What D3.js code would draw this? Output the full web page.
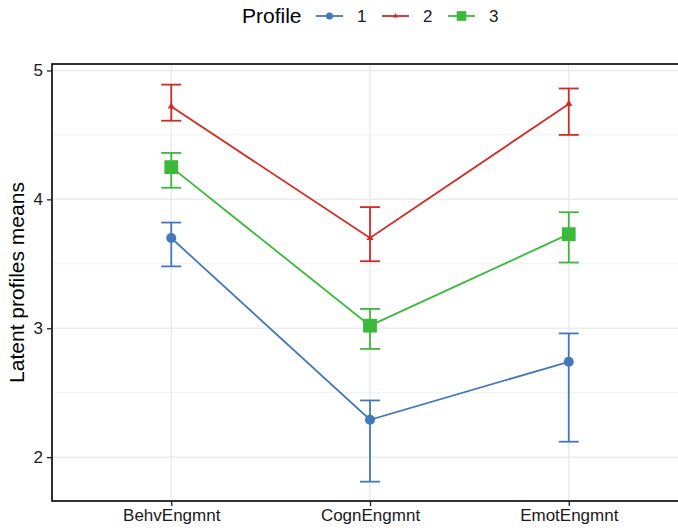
<!DOCTYPE html>
<html>
<head>
<meta charset="utf-8">
<script src="https://cdn.jsdelivr.net/npm/d3@7"></script>
<style>
  body { margin: 0; background: #fff; }
  svg { display: block; font-family: "Liberation Sans", Arial, sans-serif; }
</style>
</head>
<body>
<div class="main_content"></div>
<script>
// data
const categories = ['BehvEngmnt', 'CognEngmnt', 'EmotEngmnt'];
const profiles = ['1', '2', '3'];
const profileColors = ['#4479b9', '#d42a24', '#3bb93b'];
const profileShapes = ['circle', 'triangle', 'square'];

const means1 = [3.70, 2.29, 2.74];
const lower1 = [3.48, 1.81, 2.12];
const upper1 = [3.82, 2.44, 2.96];

const means2 = [4.72, 3.70, 4.74];
const lower2 = [4.61, 3.52, 4.50];
const upper2 = [4.89, 3.94, 4.86];

const means3 = [4.25, 3.02, 3.73];
const lower3 = [4.09, 2.84, 3.51];
const upper3 = [4.36, 3.15, 3.90];

const yTicks = [2, 3, 4, 5];
const yMinor = [2.5, 3.5, 4.5];
const yLabel = 'Latent profiles means';
const legendTitle = 'Profile';

class ProfileChart {
    constructor() {
        this.width = 678;
        this.height = 531;
        this.margin = {top: 64, right: -10, bottom: 30, left: 52};
    }

    render() {
        let svg = d3.select('.main_content')
            .append('svg')
            .attr('width', this.width)
            .attr('height', this.height);

        let left = this.margin.left;
        let right = this.width - this.margin.right;
        let top = this.margin.top;
        let bottom = this.height - this.margin.bottom;

        // discrete x with ggplot-like 0.6 expansion
        let x = d3.scalePoint()
            .domain(categories)
            .range([left, right])
            .padding(0.6);
        let y = d3.scaleLinear()
            .domain([1.66, 5.05])
            .range([bottom, top]);

        let grid = svg.append('g');
        grid.selectAll('.minor')
            .data(yMinor)
            .join('line')
            .attr('x1', left).attr('x2', right)
            .attr('y1', d => y(d)).attr('y2', d => y(d))
            .style('stroke', '#f0f0f0')
            .style('stroke-width', 1);
        grid.selectAll('.major')
            .data(yTicks)
            .join('line')
            .attr('x1', left).attr('x2', right)
            .attr('y1', d => y(d)).attr('y2', d => y(d))
            .style('stroke', '#ebebeb')
            .style('stroke-width', 1.5);
        grid.selectAll('.vmajor')
            .data(categories)
            .join('line')
            .attr('x1', d => x(d)).attr('x2', d => x(d))
            .attr('y1', top).attr('y2', bottom)
            .style('stroke', '#ebebeb')
            .style('stroke-width', 1.5);

        // panel border
        svg.append('rect')
            .attr('x', left)
            .attr('y', top)
            .attr('width', right - left)
            .attr('height', bottom - top)
            .style('fill', 'none')
            .style('stroke', '#000')
            .style('stroke-width', 1.6);

        // axes
        let yAxis = svg.append('g')
            .attr('transform', `translate(${left},0)`)
            .call(d3.axisLeft(y).tickValues(yTicks).tickSize(5).tickPadding(4).tickFormat(d3.format('d')));
        let xAxis = svg.append('g')
            .attr('transform', `translate(0,${bottom})`)
            .call(d3.axisBottom(x).tickSize(5).tickPadding(3));
        [yAxis, xAxis].forEach(a => {
            a.select('.domain').remove();
            a.selectAll('line').style('stroke', '#222').style('stroke-width', 1.3);
            a.selectAll('text')
                .style('font-size', '17px')
                .style('fill', '#1a1a1a')
                .style('font-family', '"Liberation Sans", Arial, sans-serif');
        });

        svg.append('text')
            .attr('transform', `translate(24,${(top + bottom) / 2}) rotate(-90)`)
            .attr('text-anchor', 'middle')
            .style('font-size', '21px')
            .style('fill', '#000')
            .text(yLabel);

        let series = [
            {name: profiles[0], m: means1, lo: lower1, hi: upper1},
            {name: profiles[1], m: means2, lo: lower2, hi: upper2},
            {name: profiles[2], m: means3, lo: lower3, hi: upper3}
        ];

        let line = d3.line()
            .x(d => x(d.cat))
            .y(d => y(d.v));

        series.forEach((s, i) => {
            let color = profileColors[i];
            let pts = categories.map((c, j) => ({cat: c, v: s.m[j], lo: s.lo[j], hi: s.hi[j]}));
            let g = svg.append('g');

            // error bars
            let eb = g.selectAll('.eb')
                .data(pts)
                .join('g');
            eb.append('line')
                .attr('x1', d => x(d.cat)).attr('x2', d => x(d.cat))
                .attr('y1', d => y(d.lo)).attr('y2', d => y(d.hi));
            eb.append('line')
                .attr('x1', d => x(d.cat) - 10).attr('x2', d => x(d.cat) + 10)
                .attr('y1', d => y(d.lo)).attr('y2', d => y(d.lo));
            eb.append('line')
                .attr('x1', d => x(d.cat) - 10).attr('x2', d => x(d.cat) + 10)
                .attr('y1', d => y(d.hi)).attr('y2', d => y(d.hi));
            eb.selectAll('line')
                .style('stroke', color)
                .style('stroke-width', 1.8);

            g.append('path')
                .datum(pts)
                .attr('d', line)
                .style('fill', 'none')
                .style('stroke', color)
                .style('stroke-width', 1.8);

            this.drawPoints(g, pts.map(p => [x(p.cat), y(p.v)]), profileShapes[i], color);
        });

        // legend
        let lg = svg.append('g');
        lg.append('text')
            .attr('x', 242)
            .attr('y', 23)
            .style('font-size', '21px')
            .text(legendTitle);
        let keyX = [316, 382, 448];
        profiles.forEach((p, i) => {
            let k = lg.append('g').attr('transform', `translate(${keyX[i]},16)`);
            k.append('line')
                .attr('x1', 0).attr('x2', 27)
                .attr('y1', 0).attr('y2', 0)
                .style('stroke', profileColors[i])
                .style('stroke-width', 1.8);
            this.drawPoints(k, [[13.5, 0]], profileShapes[i], profileColors[i], 0.7);
            k.append('text')
                .attr('x', 41)
                .attr('y', 6)
                .style('font-size', '17px')
                .style('fill', '#1a1a1a')
                .text(p);
        });
    }

    drawPoints(g, coords, shape, color, scale = 1) {
        let size = {circle: 80, triangle: 22, square: 190}[shape] * scale * scale;
        let sym = {circle: d3.symbolCircle, triangle: d3.symbolTriangle, square: d3.symbolSquare}[shape];
        g.selectAll(null)
            .data(coords)
            .join('path')
            .attr('transform', d => `translate(${d[0]},${d[1]})`)
            .attr('d', d3.symbol().type(sym).size(size))
            .style('fill', color);
    }
}

new ProfileChart().render();
</script>
</body>
</html>
